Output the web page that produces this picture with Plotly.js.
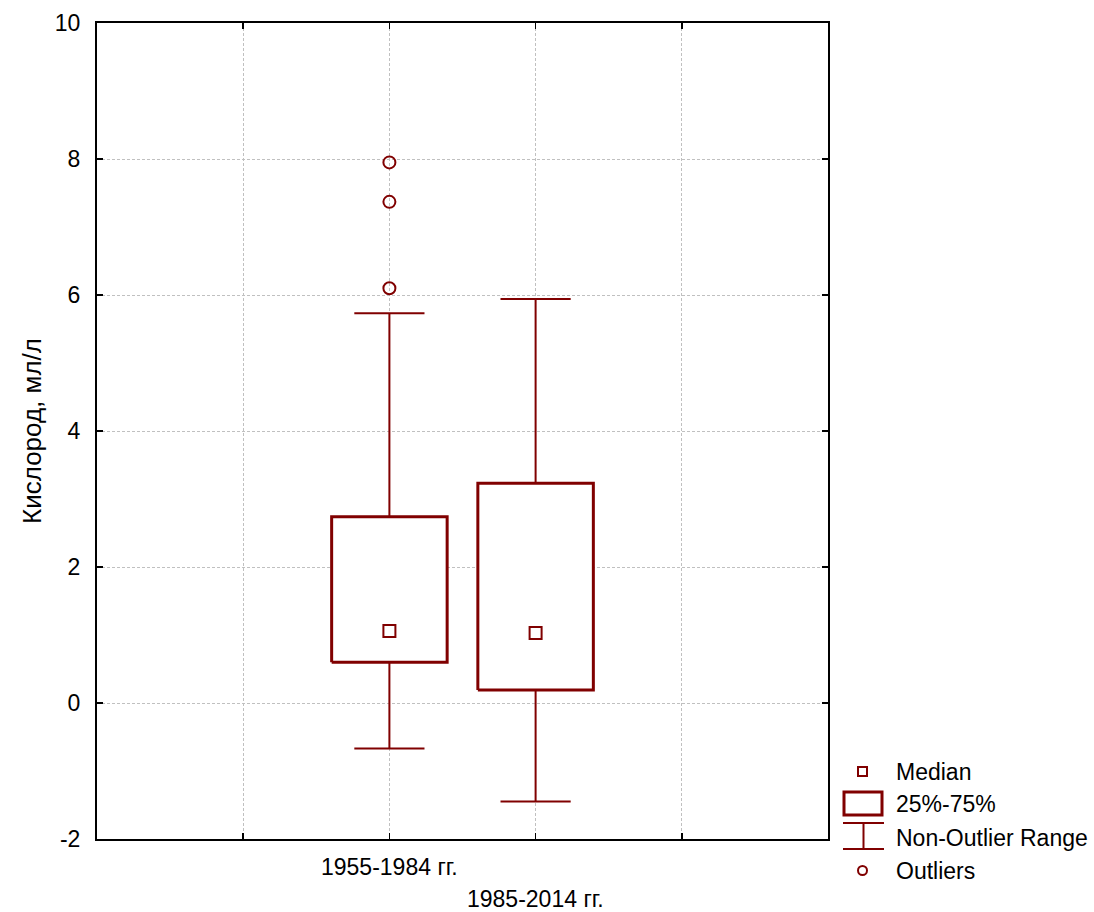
<!DOCTYPE html>
<html><head><meta charset="utf-8">
<script src="https://cdn.plot.ly/plotly-3.0.1.min.js"></script>
<style>html,body{margin:0;padding:0;background:#fff}</style>
</head><body>
<div id="chart" style="width:1094px;height:912px"></div>
<script>
// ---- data ----
const categories = ["1955-1984 гг.", "1985-2014 гг."];
const positions = [2, 3];
const medians = [1.06, 1.03];
const q1 = [0.60, 0.19];
const q3 = [2.74, 3.23];
const lowerWhisker = [-0.67, -1.45];
const upperWhisker = [5.73, 5.94];
const outlierX = [2, 2, 2];
const outlierY = [7.95, 7.37, 6.10];
const yTicks = [-2, 0, 2, 4, 6, 8, 10];
const yTickText = ["-2", "0", "2", "4", "6", "8", "10"];
const xTicks = [1, 2, 3, 4];

// ---- style ----
const RED = '#800000';
const FONT = '"Liberation Sans", Arial, sans-serif';
const FS = 23;
const BOXHALF = 0.395, CAPHALF = 0.24;
const L = 97, R = 828, T = 23, B = 839;
const W = 1094, H = 912;
const px = v => (v - L) / (R - L);
const py = v => (B - v) / (B - T);

const traces = [];
// whiskers
positions.forEach((p, i) => {
  traces.push({
    type: 'scatter', mode: 'lines', hoverinfo: 'skip', showlegend: false,
    x: [p, p, null, p, p, null, p - CAPHALF, p + CAPHALF, null, p - CAPHALF, p + CAPHALF],
    y: [q3[i], upperWhisker[i], null, q1[i], lowerWhisker[i], null, upperWhisker[i], upperWhisker[i], null, lowerWhisker[i], lowerWhisker[i]],
    line: {color: RED, width: 2}
  });
});
// boxes
positions.forEach((p, i) => {
  traces.push({
    type: 'scatter', mode: 'lines', hoverinfo: 'skip', showlegend: false,
    x: [p - BOXHALF, p + BOXHALF, p + BOXHALF, p - BOXHALF, p - BOXHALF],
    y: [q1[i], q1[i], q3[i], q3[i], q1[i]],
    fill: 'toself', fillcolor: 'white',
    line: {color: RED, width: 3}
  });
});
// medians
traces.push({
  type: 'scatter', mode: 'markers', showlegend: false,
  x: positions, y: medians,
  marker: {symbol: 'square-open', size: 12, color: RED, line: {width: 2, color: RED}}
});
// outliers
traces.push({
  type: 'scatter', mode: 'markers', showlegend: false,
  x: outlierX, y: outlierY,
  marker: {symbol: 'circle-open', size: 12, color: RED, line: {width: 2, color: RED}}
});

const shapes = [];
const annotations = [];
// legend
const legX = 894;
const legItems = [
  {text: 'Median', y: 772},
  {text: '25%-75%', y: 804},
  {text: 'Non-Outlier Range', y: 838},
  {text: 'Outliers', y: 871}
];
legItems.forEach(it => annotations.push({
  xref: 'paper', yref: 'paper', x: px(legX), y: py(it.y), xanchor: 'left', yanchor: 'middle',
  text: it.text, showarrow: false, font: {family: FONT, size: FS, color: '#000'}
}));
shapes.push({type: 'rect', xref: 'paper', yref: 'paper', x0: px(858), x1: px(867), y0: py(767), y1: py(776), line: {color: RED, width: 2}});
shapes.push({type: 'rect', xref: 'paper', yref: 'paper', x0: px(844), x1: px(882), y0: py(792), y1: py(815), line: {color: RED, width: 3}});
shapes.push({type: 'line', xref: 'paper', yref: 'paper', x0: px(843), x1: px(884), y0: py(823), y1: py(823), line: {color: RED, width: 2}});
shapes.push({type: 'line', xref: 'paper', yref: 'paper', x0: px(843), x1: px(884), y0: py(849), y1: py(849), line: {color: RED, width: 2}});
shapes.push({type: 'line', xref: 'paper', yref: 'paper', x0: px(863.5), x1: px(863.5), y0: py(823), y1: py(849), line: {color: RED, width: 2}});
shapes.push({type: 'circle', xref: 'paper', yref: 'paper', x0: px(858), x1: px(867), y0: py(866), y1: py(875), line: {color: RED, width: 2}});

// category labels (staggered)
const labelY = [867, 899];
categories.forEach((c, i) => annotations.push({
  xref: 'x', yref: 'paper', x: positions[i], y: py(labelY[i]), yanchor: 'middle', xanchor: 'center',
  text: c, showarrow: false,
  font: {family: FONT, size: 23, color: '#000'}
}));

const layout = {
  width: W, height: H,
  margin: {l: L, r: W - R, t: T, b: H - B, pad: 0},
  paper_bgcolor: 'white', plot_bgcolor: 'white',
  font: {family: FONT, size: FS, color: '#000'},
  showlegend: false,
  xaxis: {
    range: [0, 5], tickvals: xTicks, ticktext: xTicks.map(() => ''),
    ticks: 'inside', ticklen: 6, tickwidth: 1.5, tickcolor: '#000',
    showline: true, linecolor: '#000', linewidth: 2, mirror: 'ticks',
    showgrid: true, gridcolor: '#c0c0c0', gridwidth: 1, griddash: '3px,2px',
    zeroline: false, fixedrange: true
  },
  yaxis: {
    range: [-2, 10], tickvals: yTicks, ticktext: yTickText,
    ticks: 'inside', ticklen: 6, tickwidth: 1.5, tickcolor: '#000',
    showline: true, linecolor: '#000', linewidth: 2, mirror: 'ticks',
    showgrid: true, gridcolor: '#c0c0c0', gridwidth: 1, griddash: '3px,2px',
    zeroline: false, ticklabelstandoff: 10,
    tickfont: {family: FONT, size: FS, color: '#000'},
    title: {text: 'Кислород, мл/л', font: {family: FONT, size: 26, color: '#000'}, standoff: 6},
    fixedrange: true
  },
  shapes: shapes,
  annotations: annotations
};

Plotly.newPlot('chart', traces, layout, {displayModeBar: false, staticPlot: true});
</script>
</body></html>
